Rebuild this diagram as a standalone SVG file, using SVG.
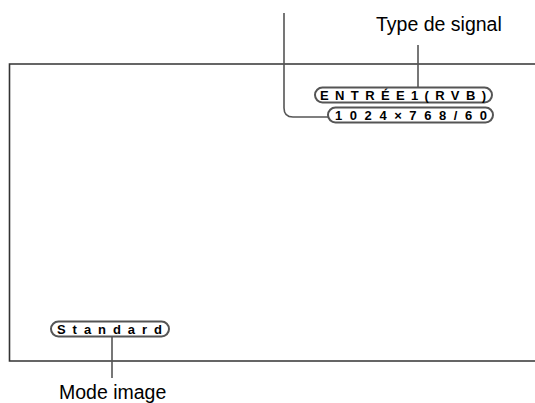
<svg xmlns="http://www.w3.org/2000/svg" width="535" height="403" viewBox="0 0 535 403">
<style>
.lbl{font-family:"Liberation Sans",Arial,sans-serif;font-size:19.5px;fill:#000}
.pill{fill:#fff;stroke:#555;stroke-width:2}
.ptxt{font-family:"Liberation Sans",Arial,sans-serif;font-size:13px;font-weight:bold;fill:#000}
.conn{fill:none;stroke:#555;stroke-width:1.6}
.frame{fill:none;stroke:#333;stroke-width:1.6}
</style>
<rect width="535" height="403" fill="#fff"/>
<g id="screen">
<path class="frame" d="M536,64 H9.5 V361 H536"/>
</g>
<g id="connectors">
<path class="conn" d="M284,13 V108 Q284,117 293,117 H329"/>
<path class="conn" d="M418,45 V88"/>
<path class="conn" d="M112,336 V378"/>
</g>
<g id="label-signal">
<text class="lbl" x="376" y="31">Type de signal</text>
</g>
<g id="label-mode">
<text class="lbl" x="59" y="399">Mode image</text>
</g>
<g id="pill-input">
<rect class="pill" x="315" y="87.5" width="177" height="15" rx="7.5"/>
<text class="ptxt" x="320" y="99.7" textLength="166" lengthAdjust="spacing">ENTRÉE1(RVB)</text>
</g>
<g id="pill-resolution">
<rect class="pill" x="328" y="107.5" width="165" height="15" rx="7.5"/>
<text class="ptxt" x="335" y="119.7" textLength="152" lengthAdjust="spacing">1024×768/60</text>
</g>
<g id="pill-mode">
<rect class="pill" x="51" y="321.5" width="118" height="15" rx="7.5"/>
<text class="ptxt" x="57" y="333.7" textLength="105" lengthAdjust="spacing">Standard</text>
</g>
</svg>
